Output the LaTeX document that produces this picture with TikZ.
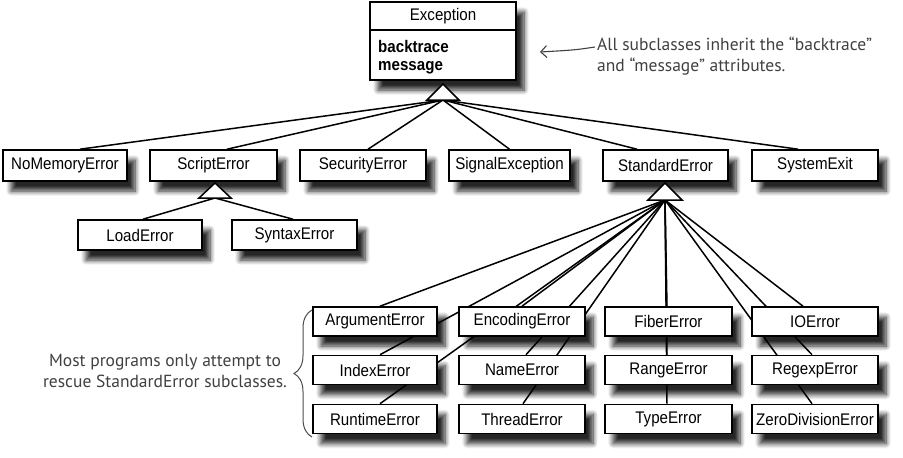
\documentclass[tikz,border=0pt]{standalone}
\usepackage{fontspec}
\setmainfont{Liberation Sans}
\newfontfamily\boxfont{Liberation Sans}[FakeStretch=0.9]
\newfontfamily\handfont{PT Sans}
\usetikzlibrary{arrows.meta,shadows,decorations.pathreplacing,calc}
\IfFileExists{tikzlibraryshadows.blur.code.tex}{%
  \usetikzlibrary{shadows.blur}%
  \tikzset{myshadow/.style={blur shadow={shadow xshift=8pt,shadow yshift=-10pt,shadow opacity=85,shadow blur radius=5pt,shadow blur steps=8}}}%
}{%
  \tikzset{myshadow/.style={general shadow={fill=black,opacity=.2,shadow xshift=10pt,shadow yshift=-11pt},general shadow={fill=black,opacity=.25,shadow xshift=8pt,shadow yshift=-9pt},general shadow={fill=black,opacity=.3,shadow xshift=6pt,shadow yshift=-7pt}}}%
}
\pgfdeclarelayer{bg}
\pgfsetlayers{bg,main}
\begin{document}
\begin{tikzpicture}[x=1pt,y=-1pt,
  cls/.style={draw=black, line width=1.6pt, fill=white, myshadow,
    font=\boxfont\fontsize{16.8}{18}\selectfont, inner sep=0pt},
  rowa/.style={cls, minimum height=31pt},
  rowb/.style={cls, minimum height=30pt},
  rowc/.style={cls, minimum height=29pt},
  lbl/.style={font=\boxfont\fontsize{16.8}{18}\selectfont, inner sep=0pt},
  battr/.style={font=\boxfont\bfseries\fontsize{16.8}{18}\selectfont, inner sep=0pt, anchor=west},
  link/.style={line width=1.5pt},
  tri/.style={draw=black, fill=white, line width=1.5pt, line join=miter},
  hand/.style={font=\handfont\fontsize{17.5}{21}\selectfont, text=black!75, inner sep=0pt}]
\useasboundingbox (0,0) rectangle (903,458);

% Exception
\node[cls, minimum width=146pt, minimum height=78pt] (exc) at (443,41) {};
\draw[line width=1.6pt] ([yshift=-29pt]exc.north west) -- ([yshift=-29pt]exc.north east);
\node[lbl] (exctitle) at (443,16.5) {Exception};
\node[battr] (attr1) at (378,46) {backtrace};
\node[battr] (attr2) at (378,68) {message};

% row 1
\node[rowa, minimum width=124pt] (nomem) at (65,165.5) {NoMemoryError};
\node[rowa, minimum width=127pt] (script) at (213.5,165.5) {ScriptError};
\node[rowa, minimum width=126pt] (secur) at (363,165.5) {SecurityError};
\node[rowa, minimum width=121pt] (signal) at (509.5,165.5) {SignalException};
\node[rowa, minimum width=125pt] (std) at (665.5,165.5) {StandardError};
\node[rowa, minimum width=126pt] (sysexit) at (815,165.5) {SystemExit};

% script children
\node[rowb, minimum width=124pt] (load) at (140,235) {LoadError};
\node[rowb, minimum width=125pt] (syntax) at (294.5,235) {SyntaxError};

% standard error children
\node[rowc, minimum width=124pt] (arg) at (375,321.5) {ArgumentError};
\node[rowc, minimum width=124pt] (idx) at (375,370) {IndexError};
\node[rowc, minimum width=124pt] (run) at (375,419) {RuntimeError};
\node[rowc, minimum width=126pt] (enc) at (522,321.5) {EncodingError};
\node[rowc, minimum width=126pt] (name) at (522,370) {NameError};
\node[rowc, minimum width=126pt] (thread) at (522,419) {ThreadError};
\node[rowc, minimum width=127pt] (fiber) at (668.5,321.5) {FiberError};
\node[rowc, minimum width=127pt] (range) at (668.5,370) {RangeError};
\node[rowc, minimum width=127pt] (type) at (668.5,419) {TypeError};
\node[rowc, minimum width=126pt] (ioerr) at (815,321.5) {IOError};
\node[rowc, minimum width=126pt] (regexp) at (815,370) {RegexpError};
\node[rowc, minimum width=126pt] (zero) at (815,419) {ZeroDivisionError};

% triangle base points
\coordinate (ebase) at (443,100);
\coordinate (sbase) at (215,198);
\coordinate (stbase) at (665,200);

\begin{pgfonlayer}{bg}
\draw[link] (ebase) -- ([xshift=15pt]nomem.north);
\draw[link] (ebase) -- ([xshift=13.5pt]script.north);
\draw[link] (ebase) -- ([xshift=5pt]secur.north);
\draw[link] (ebase) -- (signal.north);
\draw[link] (ebase) -- ([xshift=-28.5pt]std.north);
\draw[link] (ebase) -- ([xshift=-17pt]sysexit.north);

\draw[link] (sbase) -- ([xshift=3pt]load.north);
\draw[link] (sbase) -- ([xshift=-1.5pt]syntax.north);

\draw[link] (stbase) -- ([xshift=5pt]arg.north);
\draw[link] (stbase) -- ([xshift=5pt]idx.north);
\draw[link] (stbase) -- ([xshift=5pt]run.north);
\draw[link] (stbase) -- (enc.north);
\draw[link] (stbase) -- ([xshift=4pt]name.north);
\draw[link] (stbase) -- ([xshift=1pt]thread.north);
\draw[link] (stbase) -- ([xshift=-1.5pt]fiber.north);
\draw[link] (stbase) -- ([xshift=-1.5pt]range.north);
\draw[link] (stbase) -- ([xshift=-1.5pt]type.north);
\draw[link] (stbase) -- ([xshift=-12pt]ioerr.north);
\draw[link] (stbase) -- ([xshift=-3pt]regexp.north);
\draw[link] (stbase) -- ([xshift=-3pt]zero.north);
\end{pgfonlayer}

% inheritance triangles
\draw[tri] (ebase) ++(-16,0) -- ++(16,-16) -- ++(16,16) -- cycle;
\draw[tri] (sbase) ++(-16,0) -- ++(16,-15) -- ++(16,15) -- cycle;
\draw[tri] (stbase) ++(-17,0) -- ++(17,-17) -- ++(17,17) -- cycle;

% annotations
\node[hand, anchor=west, align=left] (note1) at (597,56) {All subclasses inherit the “backtrace”\\and “message” attributes.};
\coordinate (arrowtip) at (540,52);
\draw[black!75, line width=1.1pt, -{Straight Barb[length=6pt,width=12pt]}]
  ([xshift=-2pt,yshift=9pt]note1.west) .. controls (575,50) .. (arrowtip);

\node[hand, align=center] (note2) at (165,371) {Most programs only attempt to\\rescue StandardError subclasses.};
\coordinate (bracebot) at (312,437);
\coordinate (bracetop) at (312,310);
\draw[black!70, line width=1pt, decorate, decoration={brace, amplitude=18pt}] (bracebot) -- (bracetop);
\end{tikzpicture}
\end{document}
